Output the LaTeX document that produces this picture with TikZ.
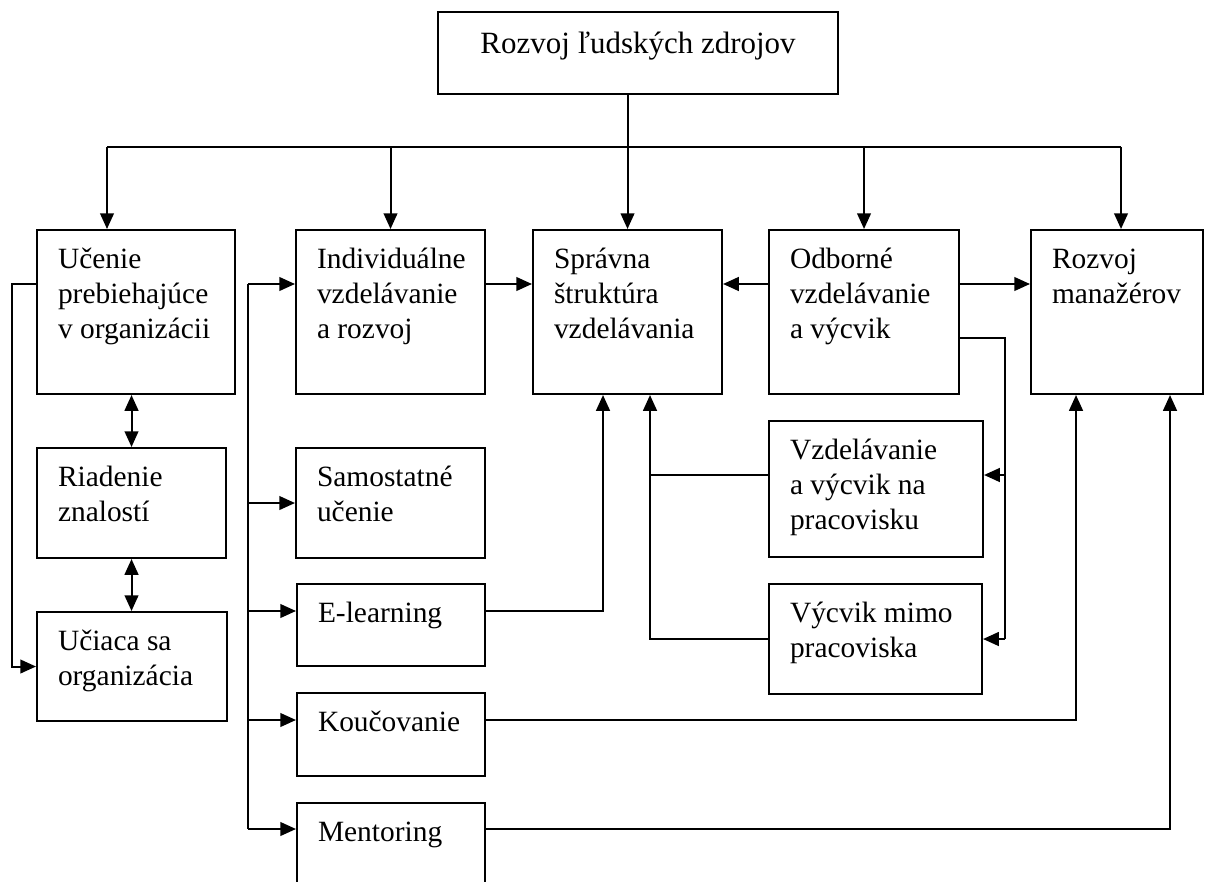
\documentclass[tikz,border=0pt]{standalone}
\usepackage{fontspec}
\setmainfont{Liberation Serif}
\usetikzlibrary{arrows.meta,calc}
\newdimen\pxu \pxu=0.3943pt
\newcommand{\bt}[3]{\parbox[c][#2\pxu][t]{#1\pxu}{\raggedright\leftskip=21\pxu\rule{0pt}{15pt}#3}}
\begin{document}
\begin{tikzpicture}[x=0.3943pt,y=-0.3943pt,
  box/.style={draw, line width=0.8pt, anchor=north west, inner sep=0pt, font=\fontsize{11.6pt}{13.8pt}\selectfont},
  ln/.style={line width=0.8pt},
  arr/.style={ln, -{Triangle[length=6.2pt,width=5.4pt]}},
  darr/.style={ln, {Triangle[length=6.2pt,width=5.4pt]}-{Triangle[length=6.2pt,width=5.4pt]}}]
\useasboundingbox (0,0) rectangle (1207,881);
\clip (0,0) rectangle (1207,881);
% boxes
\node[box, font=\fontsize{12.2pt}{14pt}\selectfont] (top) at (437,11) {\parbox[c][82\pxu][t]{400\pxu}{\centering\rule{0pt}{16.4pt}Rozvoj ľudských zdrojov}};
\node[box] (a) at (36,229) {\bt{198}{164}{Učenie\\prebiehajúce\\v organizácii}};
\node[box] (b) at (295,229) {\bt{189}{164}{Individuálne\\vzdelávanie\\a rozvoj}};
\node[box] (c) at (532,229) {\bt{189}{164}{Správna\\štruktúra\\vzdelávania}};
\node[box] (d) at (768,229) {\bt{190}{164}{Odborné\\vzdelávanie\\a výcvik}};
\node[box] (e) at (1030,229) {\bt{172}{164}{Rozvoj\\manažérov}};
\node[box] (r) at (36,447) {\bt{189}{110}{Riadenie\\znalostí}};
\node[box] (s) at (295,447) {\bt{189}{110}{Samostatné\\učenie}};
\node[box] (u) at (36,611) {\bt{190}{109}{Učiaca sa\\organizácia}};
\node[box] (el) at (296,583) {\bt{188}{82}{E-learning}};
\node[box] (ko) at (296,692) {\bt{188}{83}{Koučovanie}};
\node[box] (me) at (296,802) {\bt{188}{110}{Mentoring}};
\node[box] (vz) at (768,420) {\bt{214}{136}{Vzdelávanie\\a výcvik na\\pracovisku}};
\node[box] (vm) at (768,583) {\bt{213}{110}{Výcvik mimo\\pracoviska}};
% helper coordinates
\coordinate (busL) at (107,147);
\coordinate (busR) at (1121,147);
\coordinate (r1) at (0,284);
\coordinate (lx) at (12,0);
\coordinate (vx) at (248,0);
\coordinate (y475) at (0,475);
\coordinate (y611) at (0,611);
\coordinate (y720) at (0,720);
\coordinate (y829) at (0,829);
\coordinate (dx) at (1005,338);
\coordinate (cx1) at (603,0);
\coordinate (cx2) at (650,0);
\coordinate (ex1) at (1076,0);
\coordinate (ex2) at (1170,0);
% top distribution
\draw[arr] (top.south -| c.north) -- (c.north);
\draw[ln] (busL) -- (busR);
\draw[arr] (busL) -- (busL |- a.north);
\draw[arr] (b.north |- busL) -- (b.north);
\draw[arr] (d.north |- busL) -- (d.north);
\draw[arr] (busR) -- (busR |- e.north);
% left column
\draw[darr] (a.south -| r.north) -- (r.north);
\draw[darr] (r.south) -- (r.south |- u.north);
\draw[arr] (a.west |- r1) -- (lx |- r1) -- (lx |- u.west) -- (u.west);
% second column
\draw[ln] (vx |- r1) -- (vx |- y829);
\draw[arr] (vx |- r1) -- (b.west |- r1);
\draw[arr] (vx |- s.west) -- (s.west);
\draw[arr] (vx |- y611) -- (el.west |- y611);
\draw[arr] (vx |- y720) -- (ko.west |- y720);
\draw[arr] (vx |- y829) -- (me.west |- y829);
% row connections
\draw[arr] (b.east |- r1) -- (c.west |- r1);
\draw[arr] (d.west |- r1) -- (c.east |- r1);
\draw[arr] (d.east |- r1) -- (e.west |- r1);
% odborne to sub boxes
\draw[ln] (d.east |- dx) -- (dx) -- (dx |- vm.east);
\draw[arr] (dx |- y475) -- (vz.east |- y475);
\draw[arr] (dx |- vm.east) -- (vm.east);
% sub boxes to spravna
\draw[ln] (vz.west |- y475) -- (cx2 |- y475);
\draw[arr] (vm.west) -- (cx2 |- vm.west) -- (cx2 |- c.south);
\draw[arr] (el.east |- y611) -- (cx1 |- y611) -- (cx1 |- c.south);
% to rozvoj manazerov
\draw[arr] (ko.east |- y720) -- (ex1 |- y720) -- (ex1 |- e.south);
\draw[arr] (me.east |- y829) -- (ex2 |- y829) -- (ex2 |- e.south);
\end{tikzpicture}
\end{document}
